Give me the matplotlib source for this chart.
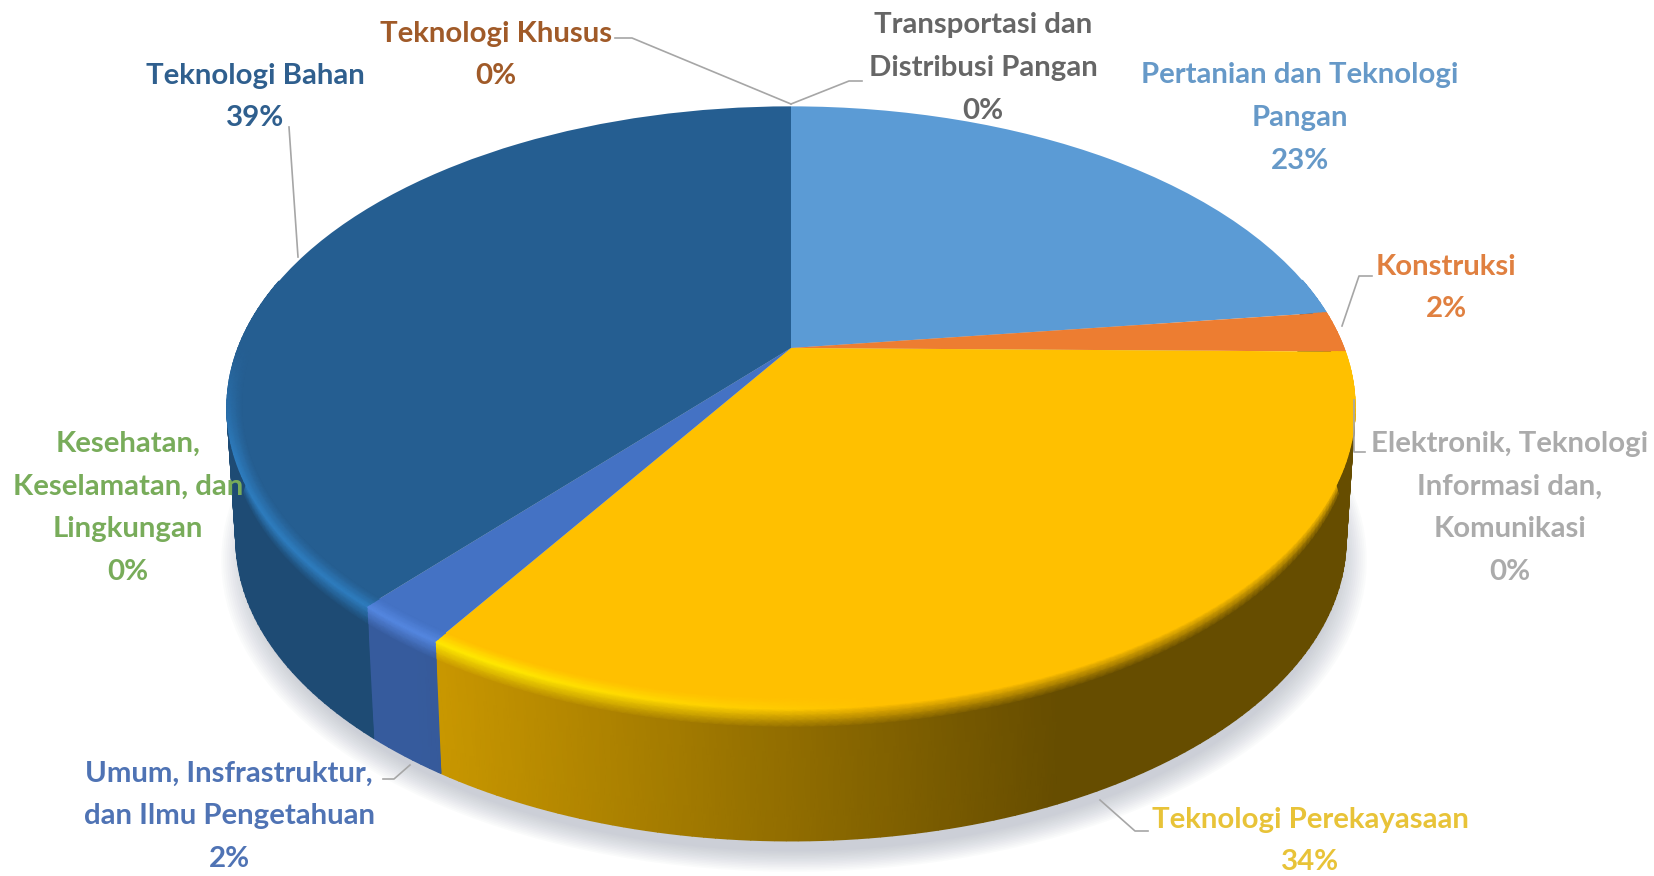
import matplotlib
matplotlib.use("Agg")
import matplotlib.pyplot as plt
import numpy as np
from matplotlib.colors import to_rgb
from matplotlib.transforms import Transform

# data, starts at 12 o'clock and runs clockwise
labels = ["Pertanian dan Teknologi\nPangan", "Konstruksi",
          "Elektronik, Teknologi\nInformasi dan,\nKomunikasi", "Teknologi Perekayasaan",
          "Umum, Insfrastruktur,\ndan Ilmu Pengetahuan", "Kesehatan,\nKeselamatan, dan\nLingkungan",
          "Teknologi Bahan", "Teknologi Khusus", "Transportasi dan\nDistribusi Pangan"]
values = [23.0, 2.2, 0, 33.8, 2.3, 0, 38.7, 0, 0]
colors = ["#5B9BD5", "#ED7D31", "#A5A5A5", "#FFC000", "#4472C4", "#70AD47", "#255E91", "#9E480E", "#636363"]
text_colors = ["#6699C8", "#E08040", "#ABABAB", "#E8C338", "#4F73B4", "#78AC5A", "#2F5F8E", "#A05A28", "#666666"]

# layout, in pixels of the 1654x876 picture
label_xy = [(1300, 118), (1446, 288), (1510, 508), (1310, 841), (229, 816), (128, 508), (255, 97), (496, 55), (983, 68)]
leaders = [[(862, 81), (849, 81), (791, 104)],
           [(615, 38), (632, 38), (791, 104)],
           [(289, 127), (298, 257)],
           [(1372, 276), (1359, 276), (1342, 326)],
           [(1365, 452), (1354, 452), (1354, 400)],
           [(1148, 831), (1135, 831), (1100, 800)],
           [(383, 779), (394, 779), (410, 765)]]
CX, CY = 791, 348
A, B, K = 553, 289.5, 0.198
DEPTH, SHRINK = 132, 0.016

rim_light = {"#FFC000": (1.0, 0.91, 0.0), "#4472C4": (0.33, 0.53, 0.88), "#255E91": (0.18, 0.49, 0.75)}


class PieProjection(Transform):
    # tilted disc: unit circle to picture pixels, near side drawn bigger
    input_dims = 2
    output_dims = 2

    def transform_non_affine(self, values):
        x, y = np.asarray(values).T
        w = 1 + K * y
        return np.column_stack([CX + A * x / w, CY - B * y / w])


proj = PieProjection()


def rim_point(theta, r=1.0, t=0.0):
    p = proj.transform_non_affine(np.array([[r * np.cos(theta), r * np.sin(theta)]]))[0]
    return CX + (p[0] - CX) * (1 - SHRINK * t), p[1] + DEPTH * t


def wall_shade(x):
    return np.interp(x, [420, 1060], [0.80, 0.40])


def light_amount(x, theta):
    return np.interp(x, [500, 880], [1.0, 0.0]) * np.interp(np.sin(theta), [-0.35, 0.0], [1.0, 0.0])


def mix(c1, c2, f):
    return (1 - f) * np.array(c1) + f * np.array(c2)


fig = plt.figure(figsize=(16.54, 8.76), dpi=100)
ax = fig.add_axes([0, 0, 1, 1])
plt.rcParams["font.family"] = ["Lato", "DejaVu Sans"]

wedges, _ = ax.pie(values, colors=colors, startangle=90, counterclock=False)
ax.set_aspect("auto")
ax.set_xlim(0, 1654)
ax.set_ylim(876, 0)
ax.axis("off")

# soft shadow under the base
angles = np.radians(np.arange(0, 360, 2))
for i in range(14):
    r = 0.985 + i * 0.0035
    pts = np.array([rim_point(a, r, 1.0) for a in angles])
    ax.fill(pts[:, 0] + 3, pts[:, 1] + 17, color="#8A93A6", alpha=0.035, lw=0, zorder=0.5)

# side wall and bevel, one smooth mesh for each slice
wall_rows = np.array([0, 0.02, 0.05, 0.09, 0.14, 1.0])
top_rows = np.array([0.975, 0.985, 0.993, 1.0])
for wedge, col in zip(wedges, colors):
    if wedge.theta2 - wedge.theta1 <= 0:
        continue
    base = to_rgb(col)
    steps = np.radians(np.append(np.arange(wedge.theta1, wedge.theta2, 1.0), wedge.theta2))
    steps = steps[np.sin(steps) < 0.25]
    if len(steps) < 2:
        continue
    wall_x, wall_y, wall_c = [], [], []
    top_x, top_y, top_c = [], [], []
    for t in wall_rows:
        pts = [rim_point(a, 1, t) for a in steps]
        wall_x.append([p[0] for p in pts])
        wall_y.append([p[1] for p in pts])
        row = []
        for a, p in zip(steps, pts):
            dark = np.array(base) * wall_shade(p[0])
            lit = mix(base, rim_light.get(col, base), light_amount(p[0], a))
            row.append(mix(lit, dark, min(1.0, t / 0.14)))
        wall_c.append(row)
    for r in top_rows:
        pts = [rim_point(a, r) for a in steps]
        top_x.append([p[0] for p in pts])
        top_y.append([p[1] for p in pts])
        row = []
        for a, p in zip(steps, pts):
            lit = mix(base, rim_light.get(col, base), light_amount(p[0], a))
            row.append(mix(base, lit, (r - top_rows[0]) / (1 - top_rows[0])))
        top_c.append(row)
    ax.pcolormesh(np.array(wall_x), np.array(wall_y), np.array(wall_c), shading="gouraud", zorder=1)
    ax.pcolormesh(np.array(top_x), np.array(top_y), np.array(top_c), shading="gouraud", zorder=3)
ax.set_xlim(0, 1654)
ax.set_ylim(876, 0)

# top of the pie: the wedges of ax.pie, only bent by the projection
for wedge in wedges:
    wedge.set_transform(proj + ax.transData)
    wedge.set_zorder(2)
    wedge.set_clip_on(False)

for pts in leaders:
    pts = np.array(pts)
    ax.plot(pts[:, 0], pts[:, 1], color="#A6A6A6", lw=1.2, zorder=4)

for lab, val, col, (x, y) in zip(labels, values, text_colors, label_xy):
    ax.text(x, y, f"{lab}\n{round(val)}%", color=col, fontsize=21.2, fontweight="bold",
            ha="center", va="center", linespacing=1.79, zorder=5)

fig.savefig("out.png", dpi=100)
